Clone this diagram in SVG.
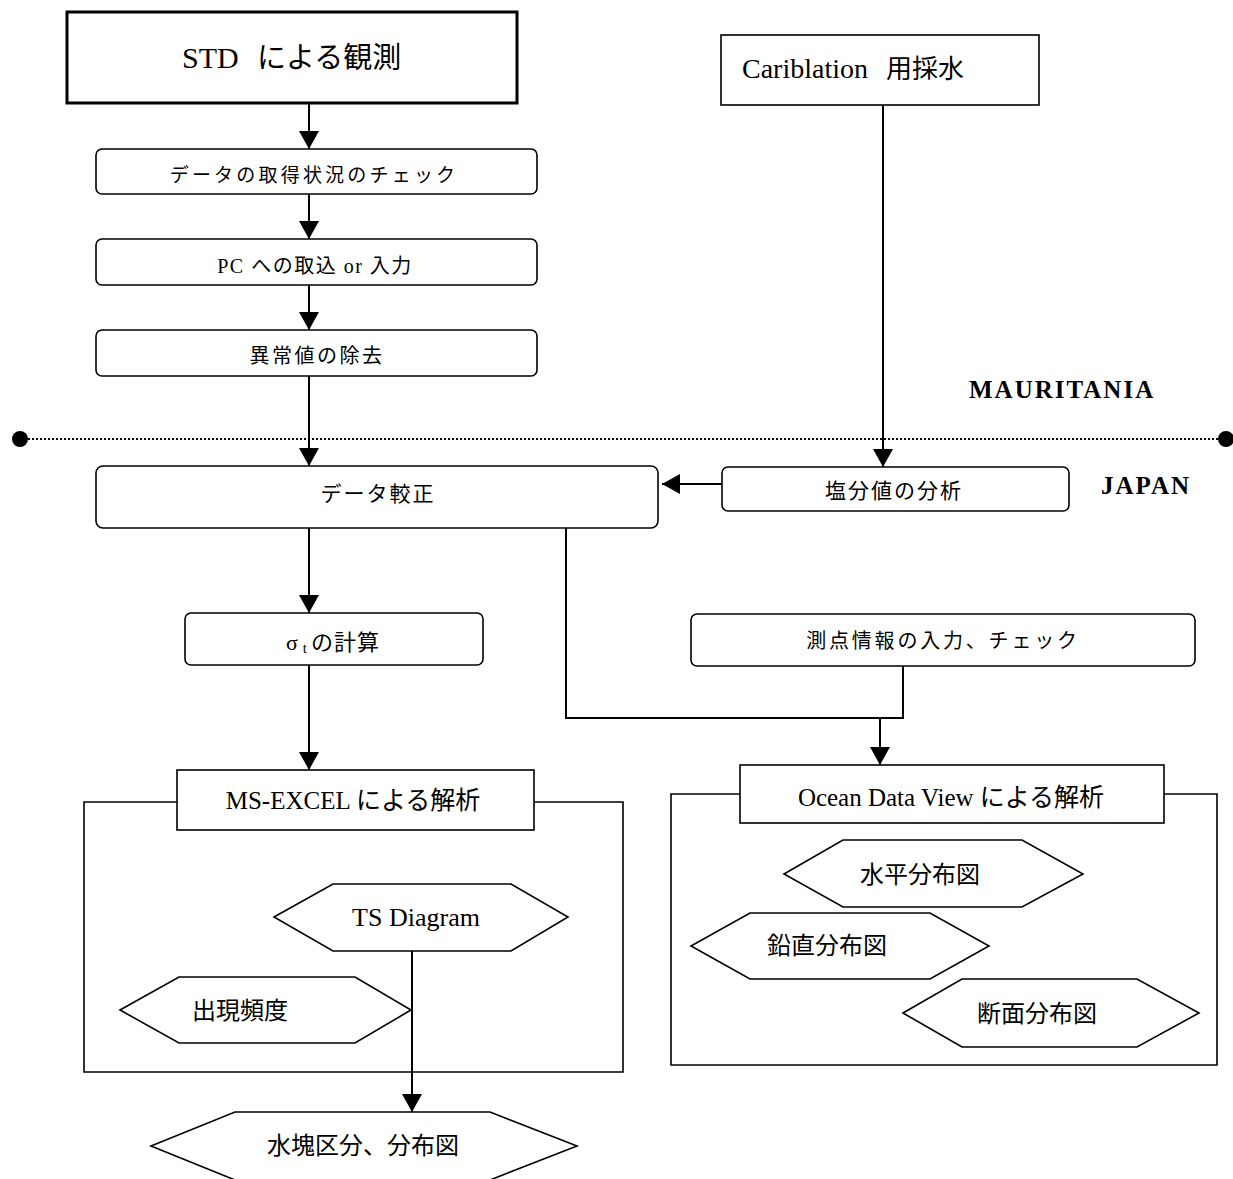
<svg xmlns="http://www.w3.org/2000/svg" width="1233" height="1179" viewBox="0 0 1233 1179">
<style>
.bx{fill:#fff;stroke:#000;stroke-width:1.6}
.ln{fill:none;stroke:#000;stroke-width:2}
.fr{fill:none;stroke:#000;stroke-width:1.6}
.t{font-family:"Liberation Serif","Noto Sans CJK JP",serif;fill:#000;text-anchor:middle}
.s{font-family:"Liberation Serif","Noto Sans CJK JP",serif;fill:#000}
.b{font-family:"Liberation Serif",serif;font-weight:bold;fill:#000}
</style>
<defs>
<marker id="ah" markerUnits="userSpaceOnUse" markerWidth="20" markerHeight="22" refX="18" refY="10" orient="auto">
<path d="M0,0 L18,10 L0,20 z" fill="#000"/>
</marker>
</defs>
<rect width="1233" height="1179" fill="#fff"/>

<g id="connectors">
<line class="ln" x1="309" y1="103" x2="309" y2="149" marker-end="url(#ah)"/>
<line class="ln" x1="309" y1="194" x2="309" y2="239" marker-end="url(#ah)"/>
<line class="ln" x1="309" y1="285" x2="309" y2="330" marker-end="url(#ah)"/>
<line class="ln" x1="309" y1="376" x2="309" y2="466" marker-end="url(#ah)"/>
<line class="ln" x1="883" y1="105" x2="883" y2="467" marker-end="url(#ah)"/>
<line class="ln" x1="722" y1="484" x2="662" y2="484" marker-end="url(#ah)"/>
<line class="ln" x1="309" y1="528" x2="309" y2="613" marker-end="url(#ah)"/>
<line class="ln" x1="309" y1="665" x2="309" y2="770" marker-end="url(#ah)"/>
<polyline class="ln" points="566,528 566,718 903,718 903,665"/>
<line class="ln" x1="880" y1="718" x2="880" y2="765" marker-end="url(#ah)"/>
<line class="ln" x1="412" y1="937" x2="412" y2="1112" marker-end="url(#ah)"/>
</g>

<g id="divider">
<line x1="20" y1="439" x2="1226" y2="439" stroke="#000" stroke-width="2" stroke-dasharray="2,2"/>
<circle cx="20" cy="439" r="8" fill="#000"/>
<circle cx="1226" cy="439" r="8" fill="#000"/>
<text class="b" x="969" y="398" font-size="25" letter-spacing="2">MAURITANIA</text>
<text class="b" x="1101" y="494" font-size="25" letter-spacing="2">JAPAN</text>
</g>

<g id="std">
<rect x="67" y="12" width="450" height="91" fill="#fff" stroke="#000" stroke-width="3"/>
<text class="s" x="182" y="68" font-size="30">STD</text>
<text class="s" x="257" y="68" font-size="29">による観測</text>
</g>
<g id="check">
<rect class="bx" x="96" y="149" width="441" height="45" rx="6"/>
<text class="t" x="314" y="182" font-size="19" letter-spacing="3.2">データの取得状況のチェック</text>
</g>
<g id="pc">
<rect class="bx" x="96" y="239" width="441" height="46" rx="6"/>
<text class="t" x="315" y="273" font-size="20" letter-spacing="1.5">PC への取込 or 入力</text>
</g>
<g id="outlier">
<rect class="bx" x="96" y="330" width="441" height="46" rx="6"/>
<text class="t" x="317" y="363" font-size="20" letter-spacing="2.5">異常値の除去</text>
</g>
<g id="calib">
<rect class="bx" x="721" y="35" width="318" height="70"/>
<text class="s" x="742" y="78" font-size="28">Cariblation</text>
<text class="s" x="886" y="78" font-size="26">用採水</text>
</g>
<g id="salinity">
<rect class="bx" x="722" y="467" width="347" height="44" rx="6"/>
<text class="t" x="894" y="498" font-size="21" letter-spacing="2">塩分値の分析</text>
</g>
<g id="correction">
<rect class="bx" x="96" y="466" width="562" height="62" rx="7"/>
<text class="t" x="378" y="501" font-size="21" letter-spacing="2">データ較正</text>
</g>
<g id="sigma">
<rect class="bx" x="185" y="613" width="298" height="52" rx="6"/>
<text class="t" x="333" y="650" font-size="22" letter-spacing="1">σ<tspan font-size="15" dx="4" dy="3">t</tspan><tspan dy="-3" dx="3">の計算</tspan></text>
</g>
<g id="station">
<rect class="bx" x="691" y="614" width="504" height="52" rx="6"/>
<text class="t" x="943" y="648" font-size="20" letter-spacing="2.8">測点情報の入力、チェック</text>
</g>

<g id="excel">
<path class="fr" d="M177,802 H84 V1072 H623 V802 H534"/>
<rect class="bx" x="177" y="770" width="357" height="60"/>
<text class="t" x="353" y="809" font-size="25">MS-EXCEL による解析</text>
</g>
<g id="ts">
<polygon class="bx" points="274,917 333,884 511,884 568,917 511,951 333,951"/>
<text class="t" x="416" y="926" font-size="26">TS Diagram</text>
</g>
<g id="freq">
<polygon class="bx" points="120,1010 179,977 355,977 411,1010 355,1043 179,1043"/>
<text class="t" x="240" y="1019" font-size="24">出現頻度</text>
</g>
<g id="watermass">
<polygon class="bx" points="151,1146 235,1112 490,1112 577,1146 490,1180 235,1180"/>
<text class="t" x="363" y="1154" font-size="24">水塊区分、分布図</text>
</g>

<g id="odv">
<path class="fr" d="M740,794 H671 V1065 H1217 V794 H1164"/>
<rect class="bx" x="740" y="765" width="424" height="58"/>
<text class="t" x="951" y="806" font-size="25">Ocean Data View による解析</text>
</g>
<g id="horizontal">
<polygon class="bx" points="784,874 843,840 1022,840 1083,874 1022,907 843,907"/>
<text class="t" x="920" y="883" font-size="24">水平分布図</text>
</g>
<g id="vertical">
<polygon class="bx" points="691,946 750,913 930,913 989,946 930,979 750,979"/>
<text class="t" x="827" y="954" font-size="24">鉛直分布図</text>
</g>
<g id="section">
<polygon class="bx" points="903,1013 962,979 1137,979 1199,1013 1137,1047 962,1047"/>
<text class="t" x="1037" y="1022" font-size="24">断面分布図</text>
</g>
</svg>
